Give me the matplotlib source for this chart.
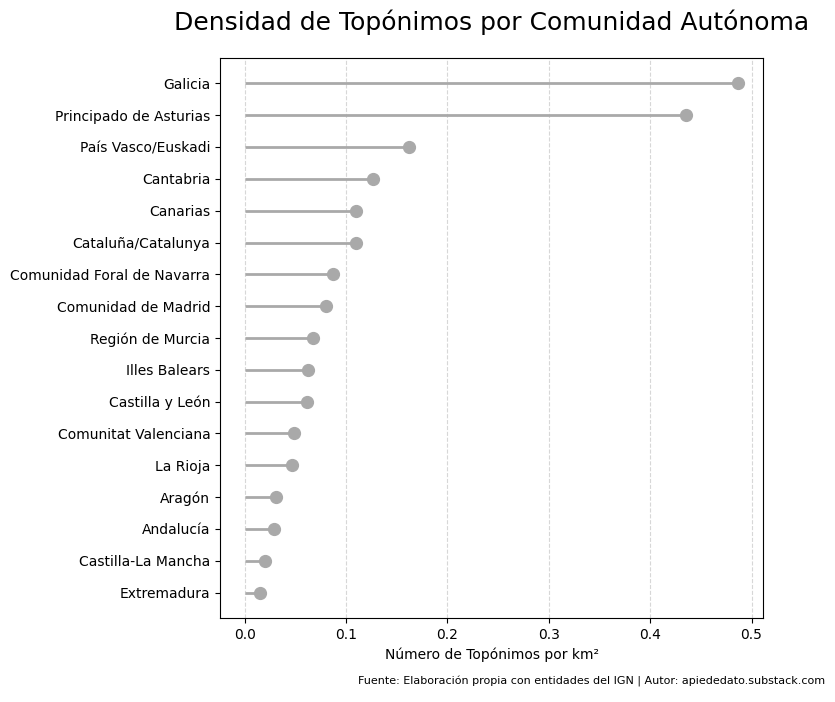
import matplotlib.pyplot as plt

comunidades = ['Extremadura', 'Castilla-La Mancha', 'Andalucía', 'Aragón', 'La Rioja',
               'Comunitat Valenciana', 'Castilla y León', 'Illes Balears', 'Región de Murcia',
               'Comunidad de Madrid', 'Comunidad Foral de Navarra', 'Cataluña/Catalunya',
               'Canarias', 'Cantabria', 'País Vasco/Euskadi', 'Principado de Asturias', 'Galicia']
densidad = [0.015, 0.020, 0.029, 0.031, 0.047, 0.049, 0.061, 0.062, 0.067,
            0.080, 0.087, 0.110, 0.110, 0.127, 0.162, 0.435, 0.487]

fig = plt.figure(figsize=(8.35, 7.02), dpi=100)
ax = fig.add_axes([0.2635, 0.1197, 0.6503, 0.7977])

pos = range(len(comunidades))
ax.hlines(y=pos, xmin=0, xmax=densidad, color='darkgray', linewidth=2)
ax.plot(densidad, pos, 'o', color='darkgray', markersize=8.5)

ax.set_yticks(list(pos))
ax.set_yticklabels(comunidades)
ax.set_xlabel('Número de Topónimos por km²')
ax.grid(axis='x', linestyle='--', alpha=0.5)
ax.set_axisbelow(True)
ax.set_title('Densidad de Topónimos por Comunidad Autónoma', fontsize=18, pad=20)

fig.text(0.988, 0.022, 'Fuente: Elaboración propia con entidades del IGN | Autor: apiededato.substack.com',
         ha='right', va='bottom', fontsize=8)

fig.savefig('out.png', dpi=100)
